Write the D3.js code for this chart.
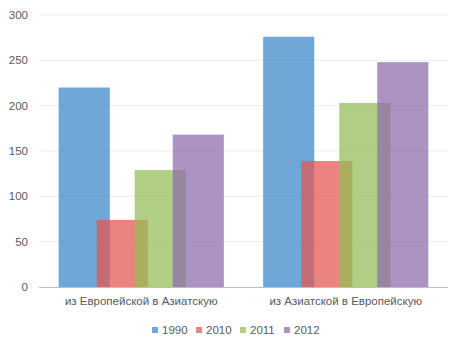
<!DOCTYPE html>
<html lang="ru">
<head>
  <meta charset="UTF-8">
  <title>Миграция</title>
  <script src="https://d3js.org/d3.v7.min.js"></script>
  <style>
    body { margin: 0; background: #fff; }
    #chart { display: block; }
    text { font-family: "Liberation Sans", Arial, sans-serif; fill: #595959; }
  </style>
</head>
<body>
<div id="chart"></div>
<script>
  const categories = ["из Европейской в Азиатскую", "из Азиатской в Европейскую"];
  const years = ["1990", "2010", "2011", "2012"];
  const v1990 = [220, 276];
  const v2010 = [74, 139];
  const v2011 = [129, 203];
  const v2012 = [168, 248];
  const yTicks = [0, 50, 100, 150, 200, 250, 300];
  const colors = ["#3886c6", "#e35451", "#91bc55", "#8e69aa"];

  const series = [v1990, v2010, v2011, v2012];
  const W = 462, H = 350;
  const margin = {top: 15, right: 14, bottom: 63, left: 39};
  const width = W - margin.left - margin.right,
        height = H - margin.top - margin.bottom;

  const svg = d3.select("#chart").append("svg")
    .attr("width", W).attr("height", H);
  const g = svg.append("g")
    .attr("transform", `translate(${margin.left},${margin.top})`);

  const x = d3.scaleBand().domain(categories).range([0, width]);
  const y = d3.scaleLinear().domain([0, 300]).range([height, 0]);

  // grid
  g.selectAll("line.grid").data(yTicks.slice(1)).enter().append("line")
    .attr("class", "grid")
    .attr("x1", 0).attr("x2", width)
    .attr("y1", d => y(d)).attr("y2", d => y(d))
    .attr("stroke", "#ececec").attr("stroke-width", 1);

  // y labels
  g.selectAll("text.ytick").data(yTicks).enter().append("text")
    .attr("class", "ytick")
    .attr("x", -11).attr("y", d => y(d))
    .attr("dy", "0.35em")
    .attr("text-anchor", "end")
    .style("font-size", "11.5px")
    .text(d => d);

  // bars overlap: each a quarter of the band, shifted by less than their width
  const barW = x.bandwidth() * 0.25;
  const step = x.bandwidth() * 0.186;
  const sub = d3.scaleLinear().domain([0, 3])
    .range([x.bandwidth() / 2 - 1.5 * step - barW / 2, x.bandwidth() / 2 + 1.5 * step - barW / 2]);

  series.forEach((vals, si) => {
    g.selectAll(`rect.s${si}`).data(vals).enter().append("rect")
      .attr("class", `s${si}`)
      .attr("x", (d, i) => x(categories[i]) + sub(si))
      .attr("y", d => y(d))
      .attr("width", barW)
      .attr("height", d => height - y(d))
      .attr("fill", colors[si])
      .attr("fill-opacity", 0.72);
  });

  // x axis line
  g.append("line")
    .attr("x1", 0).attr("x2", width)
    .attr("y1", height + 0.5).attr("y2", height + 0.5)
    .attr("stroke", "#bfbfbf").attr("stroke-width", 1);

  g.selectAll("text.cat").data(categories).enter().append("text")
    .attr("class", "cat")
    .attr("x", d => x(d) + x.bandwidth() / 2)
    .attr("y", height + 18)
    .attr("text-anchor", "middle")
    .style("font-size", "11.5px")
    .text(d => d);

  // legend
  const legend = svg.append("g").attr("transform", "translate(152, 0)");
  const item = legend.selectAll("g").data(years).enter().append("g")
    .attr("transform", (d, i) => `translate(${i * 44}, 326)`);
  item.append("rect")
    .attr("width", 6).attr("height", 6).attr("y", 1)
    .attr("fill", (d, i) => colors[i]).attr("fill-opacity", 0.72);
  item.append("text")
    .attr("x", 10).attr("y", 7.5)
    .style("font-size", "11.5px")
    .text(d => d);
</script>
</body>
</html>
